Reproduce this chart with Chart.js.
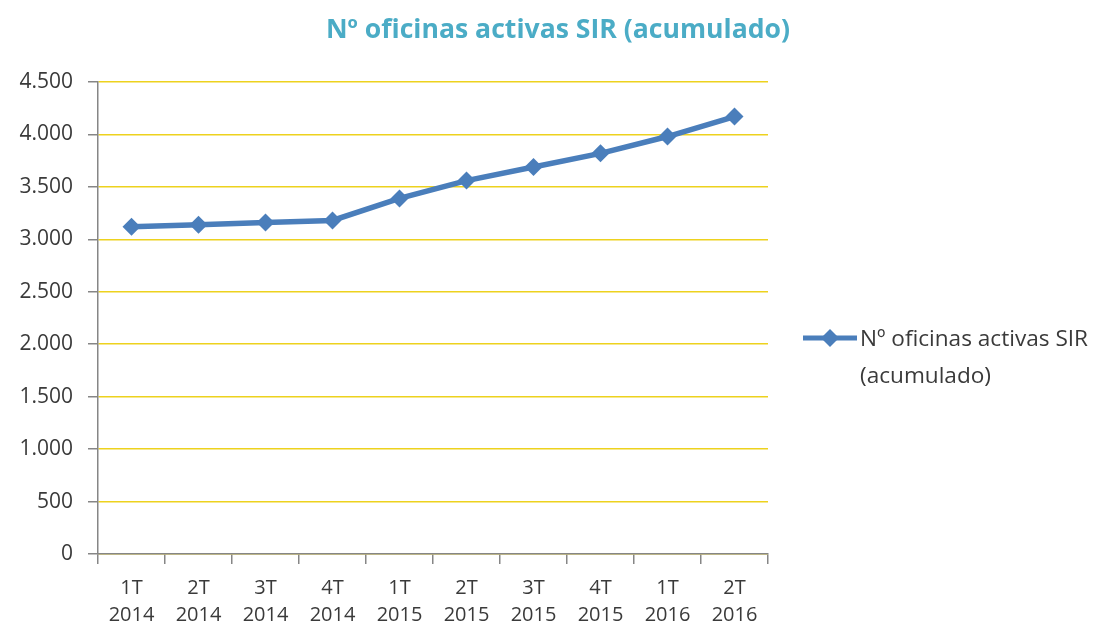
<!DOCTYPE html>
<html>
<head>
<meta charset="utf-8">
<script src="https://cdn.jsdelivr.net/npm/chart.js@4.4.1/dist/chart.umd.min.js"></script>
<style>
  html, body { margin: 0; padding: 0; background: #ffffff; }
  #wrap { width: 1101px; height: 633px; position: relative; }
</style>
</head>
<body>
<div id="wrap"><canvas id="c" width="1101" height="633"></canvas></div>
<script>
const chartTitle = 'Nº oficinas activas SIR (acumulado)';
const seriesName = 'Nº oficinas activas SIR (acumulado)';
const legendLines = ['Nº oficinas activas SIR', '(acumulado)'];
const categories = [
  ['1T', '2014'], ['2T', '2014'], ['3T', '2014'], ['4T', '2014'],
  ['1T', '2015'], ['2T', '2015'], ['3T', '2015'], ['4T', '2015'],
  ['1T', '2016'], ['2T', '2016']
];
const values = [3120, 3140, 3160, 3180, 3390, 3560, 3690, 3820, 3980, 4170];
const yMin = 0, yMax = 4500, yStep = 500;

const lineColor = '#4A7EBB';
const textColor = '#3A3A3A';
const axisColor = '#868686';
const gridColor = '#EDD21E';

const fmt = v => v.toString().replace(/\B(?=(\d{3})+(?!\d))/g, '.');

const decor = {
  id: 'decor',
  afterDraw(chart) {
    const ctx = chart.ctx;
    const ca = chart.chartArea;
    ctx.save();
    // title
    ctx.font = 'bold 26.6px "Open Sans"';
    ctx.fillStyle = '#4BACC6';
    ctx.textAlign = 'center';
    ctx.textBaseline = 'middle';
    ctx.fillText(chartTitle, 558, 30);
    // legend
    const lx = ca.right + 35, ly = 338;
    ctx.strokeStyle = lineColor;
    ctx.lineWidth = 5;
    ctx.beginPath();
    ctx.moveTo(lx, ly);
    ctx.lineTo(lx + 54, ly);
    ctx.stroke();
    ctx.fillStyle = lineColor;
    const dx = lx + 27, r = 9;
    ctx.beginPath();
    ctx.moveTo(dx, ly - r); ctx.lineTo(dx + r, ly); ctx.lineTo(dx, ly + r); ctx.lineTo(dx - r, ly);
    ctx.closePath(); ctx.fill();
    ctx.font = '22.6px "Open Sans"';
    ctx.fillStyle = textColor;
    ctx.textAlign = 'left';
    ctx.fillText(legendLines[0], lx + 57, ly + 2);
    ctx.fillText(legendLines[1], lx + 57, ly + 39);
    ctx.restore();
  }
};

new Chart(document.getElementById('c'), {
  type: 'line',
  data: {
    labels: categories,
    datasets: [{
      label: seriesName,
      data: values,
      borderColor: lineColor,
      backgroundColor: lineColor,
      borderWidth: 5.5,
      pointStyle: 'rectRot',
      pointRadius: 9,
      pointHoverRadius: 9,
      pointBorderWidth: 0,
      tension: 0
    }]
  },
  options: {
    responsive: false,
    animation: false,
    devicePixelRatio: 1,
    layout: { padding: { top: 82, right: 333, left: 0, bottom: 0 } },
    plugins: {
      legend: { display: false },
      title: { display: false },
      tooltip: { enabled: false }
    },
    scales: {
      x: {
        offset: true,
        grid: { offset: true, drawOnChartArea: false, drawTicks: true, tickLength: 10, tickColor: axisColor, lineWidth: 1.5 },
        border: { color: axisColor, width: 1.5 },
        ticks: { color: textColor, font: { family: '"Open Sans"', size: 20, lineHeight: 1.35 }, padding: 11, maxRotation: 0, autoSkip: false },
        afterFit(s) { s.height = 79; }
      },
      y: {
        min: yMin, max: yMax,
        grid: { color: gridColor, lineWidth: 1.5, tickColor: axisColor, tickLength: 10 },
        border: { color: axisColor, width: 1.5 },
        ticks: { stepSize: yStep, color: textColor, font: { family: '"Open Sans"', size: 21 }, padding: 15, callback: v => fmt(v) },
        afterFit(s) { s.width = 98; }
      }
    }
  },
  plugins: [decor]
});
</script>
</body>
</html>
